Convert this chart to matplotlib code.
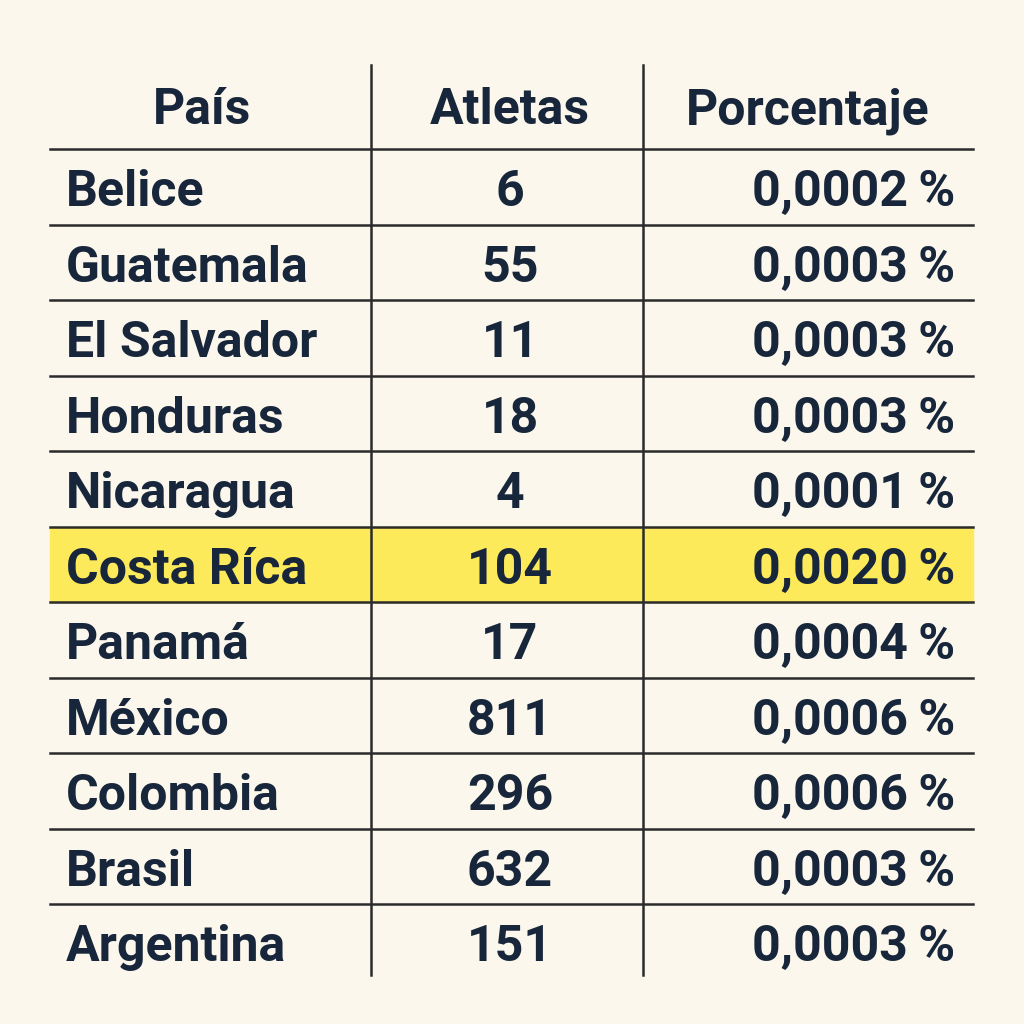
import matplotlib.pyplot as plt
from matplotlib.patches import Rectangle

paises = ["Belice", "Guatemala", "El Salvador", "Honduras", "Nicaragua", "Costa Ríca",
          "Panamá", "México", "Colombia", "Brasil", "Argentina"]
atletas = [6, 55, 11, 18, 4, 104, 17, 811, 296, 632, 151]
porcentajes = ["0,0002\u2009%", "0,0003\u2009%", "0,0003\u2009%", "0,0003\u2009%", "0,0001\u2009%",
               "0,0020\u2009%", "0,0004\u2009%", "0,0006\u2009%", "0,0006\u2009%", "0,0003\u2009%",
               "0,0003\u2009%"]
encabezados = ["País", "Atletas", "Porcentaje"]
destacado = "Costa Ríca"

bg = "#fcf7ec"
ink = "#17263a"
fig = plt.figure(figsize=(10.24, 10.24), dpi=100, facecolor=bg)
ax = fig.add_axes([0, 0, 1, 1])
ax.set_xlim(0, 1024)
ax.set_ylim(1024, 0)
ax.axis("off")
ax.set_facecolor(bg)

top, head_h, row_h = 65, 84, 75.5
left, right = 50, 973
v1, v2 = 371, 643
fs = 36
font = dict(family="Roboto", weight="bold", color=ink, fontsize=fs, va="center")

ax.text(202, 111, encabezados[0], ha="center", **font)
ax.text(510, 111, encabezados[1], ha="center", **font)
ax.text(808, 111, encabezados[2], ha="center", **font)

y0 = top + head_h
for i, (p, a, pc) in enumerate(zip(paises, atletas, porcentajes)):
    ys = y0 + i * row_h
    if p == destacado:
        ax.add_patch(Rectangle((left, ys), right - left, row_h, color="#fcea5a", zorder=0))
    ax.plot([left, right], [ys, ys], color="#2b2b2b", lw=1.8)
    yc = ys + row_h / 2 + 6
    ax.text(66, yc, p, ha="left", **font)
    ax.text(510, yc, str(a), ha="center", **font)
    ax.text(955, yc, pc, ha="right", **font)

bottom = y0 + len(paises) * row_h
for x in (v1, v2):
    ax.plot([x, x], [top, bottom - 5], color="#2b2b2b", lw=1.8)

fig.savefig("out.png", dpi=100, facecolor=bg)
